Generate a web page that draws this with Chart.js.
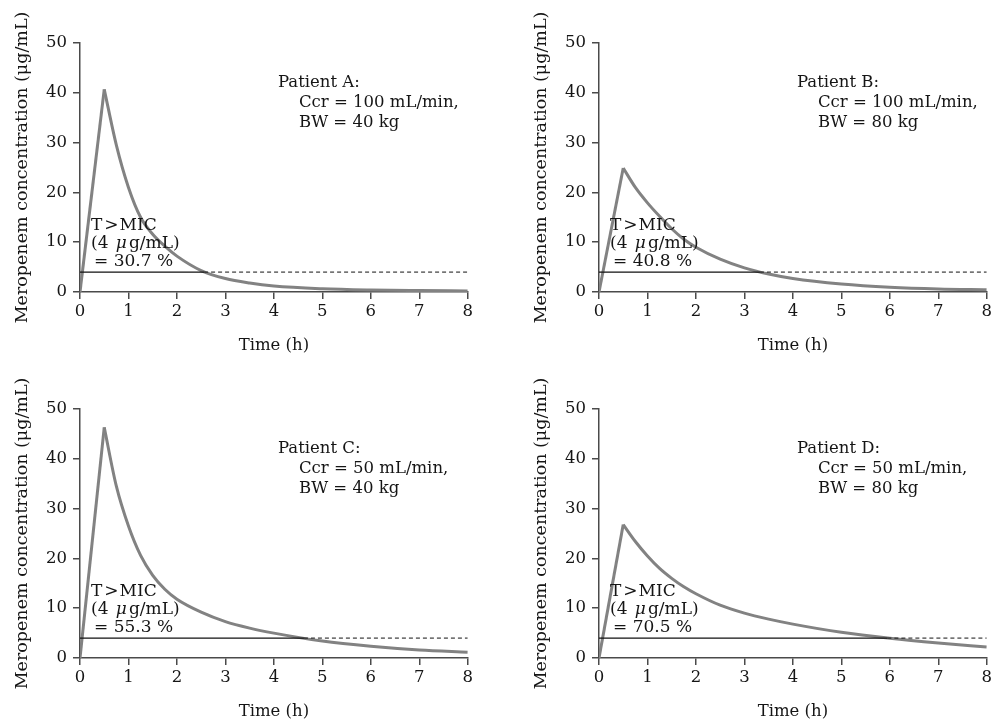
<!DOCTYPE html>
<html>
<head>
<meta charset="utf-8">
<script src="https://cdn.jsdelivr.net/npm/chart.js@4.4.1/dist/chart.umd.min.js"></script>
<style>
  body { margin: 0; background: #fff; }
  #wrap { position: relative; width: 995px; height: 721px; }
  canvas { position: absolute; }
</style>
</head>
<body>
<div id="wrap">
  <canvas id="chartA" width="476" height="360" style="left:0px;top:0px"></canvas>
  <canvas id="chartB" width="476" height="360" style="left:519px;top:0px"></canvas>
  <canvas id="chartC" width="476" height="360" style="left:0px;top:366px"></canvas>
  <canvas id="chartD" width="476" height="360" style="left:519px;top:366px"></canvas>
</div>
<script>
// time points (h), shared by all patients
const timeH = [0, 0.5, 0.75, 1, 1.25, 1.5, 1.75, 2, 2.5, 3, 3.5, 4, 5, 6, 7, 8];

// meropenem concentration (ug/mL)
const concA = [0, 40.7, 29.5, 21.0, 15.0, 11.6, 9.2, 7.2, 4.3, 2.7, 1.8, 1.2, 0.65, 0.4, 0.28, 0.2];
const concB = [0, 24.9, 21.0, 17.9, 15.2, 12.7, 10.6, 9.0, 6.6, 4.85, 3.6, 2.7, 1.6, 0.95, 0.6, 0.45];
const concC = [0, 46.3, 34.5, 26.5, 20.6, 16.6, 13.8, 11.8, 9.2, 7.3, 6.0, 5.0, 3.4, 2.35, 1.6, 1.15];
const concD = [0, 26.8, 23.4, 20.5, 18.0, 16.0, 14.3, 12.9, 10.6, 9.0, 7.8, 6.8, 5.15, 3.95, 3.0, 2.2];

// MIC line and the time where the curve drops below it
const mic = 4;
const crossTime = [2.56, 3.32, 4.62, 5.95];

const patientNames = ["Patient A:", "Patient B:", "Patient C:", "Patient D:"];
const ccrLabels = ["Ccr = 100 mL/min,", "Ccr = 100 mL/min,", "Ccr = 50 mL/min,", "Ccr = 50 mL/min,"];
const bwLabels = ["BW = 40 kg", "BW = 80 kg", "BW = 40 kg", "BW = 80 kg"];
const tmicLabels = ["= 30.7 %", "= 40.8 %", "= 55.3 %", "= 70.5 %"];

const xTicks = [0, 1, 2, 3, 4, 5, 6, 7, 8];
const yTicks = [0, 10, 20, 30, 40, 50];

const serif = "'DejaVu Serif', serif";
const axisCol = "#4a4a4a";
const textCol = "#151515";

// draws the patient block and the T>MIC note inside the plot
const panelText = {
  id: "panelText",
  afterDraw(chart, args, opts) {
    const ctx = chart.ctx;
    const a = chart.chartArea;
    ctx.save();
    ctx.fillStyle = textCol;
    ctx.textBaseline = "middle";
    ctx.font = "16.5px " + serif;
    ctx.fillText(opts.name, a.left + 198, a.top + 40);
    ctx.fillText(opts.ccr, a.left + 219, a.top + 60);
    ctx.fillText(opts.bw, a.left + 219, a.top + 80);

    // T>MIC note
    ctx.font = "17px " + serif;
    let x = a.left + 11;
    ctx.fillText("T", x, a.top + 183);
    x += ctx.measureText("T").width + 2;
    ctx.fillText(">", x, a.top + 183);
    x += ctx.measureText(">").width + 1;
    ctx.fillText("MIC", x, a.top + 183);

    const parts = [["(4 ", false], ["\u03BC", true], ["g/mL)", false]];
    x = a.left + 11;
    parts.forEach(function (p) {
      ctx.font = (p[1] ? "italic " : "") + "17px " + serif;
      ctx.fillText(p[0], x, a.top + 201);
      x += ctx.measureText(p[0]).width + 2;
    });
    ctx.font = "17px " + serif;
    ctx.fillText(opts.tmic, a.left + 14, a.top + 219);
    ctx.restore();
  },
};

function toPoints(xs, ys) {
  return xs.map(function (t, i) {
    return { x: t, y: ys[i] };
  });
}

function makeChart(id, conc, idx) {
  const rise = toPoints(timeH.slice(0, 2), conc.slice(0, 2));
  const decay = toPoints(timeH.slice(1), conc.slice(1));
  const micSolid = [{ x: 0, y: mic }, { x: crossTime[idx], y: mic }];
  const micDash = [{ x: crossTime[idx], y: mic }, { x: 8, y: mic }];

  return new Chart(document.getElementById(id), {
    type: "line",
    data: {
      datasets: [
        { data: micSolid, borderColor: "#111", borderWidth: 1.2, pointRadius: 0 },
        { data: micDash, borderColor: "#111", borderWidth: 1, borderDash: [4, 3], pointRadius: 0 },
        { data: rise, borderColor: "#828282", borderWidth: 3, pointRadius: 0 },
        {
          data: decay,
          borderColor: "#828282",
          borderWidth: 3,
          pointRadius: 0,
          cubicInterpolationMode: "monotone",
        },
      ],
    },
    options: {
      responsive: false,
      animation: false,
      devicePixelRatio: 1,
      layout: { padding: { top: 43, right: 6, bottom: 0, left: 0 } },
      plugins: {
        legend: { display: false },
        tooltip: { enabled: false },
        panelText: {
          name: patientNames[idx],
          ccr: ccrLabels[idx],
          bw: bwLabels[idx],
          tmic: tmicLabels[idx],
        },
      },
      scales: {
        x: {
          type: "linear",
          min: 0,
          max: 8,
          afterBuildTicks(s) {
            s.ticks = xTicks.map((v) => ({ value: v }));
          },
          afterFit(s) {
            s.height = 68;
          },
          ticks: { color: textCol, font: { family: serif, size: 16.5 }, padding: 3 },
          grid: { drawOnChartArea: false, tickLength: 7, color: axisCol, lineWidth: 1.5 },
          border: { color: axisCol, width: 1.5 },
          title: {
            display: true,
            text: "Time (h)",
            color: textCol,
            font: { family: serif, size: 16.5 },
            padding: { top: 10, bottom: 4 },
          },
        },
        y: {
          min: 0,
          max: 50,
          afterBuildTicks(s) {
            s.ticks = yTicks.map((v) => ({ value: v }));
          },
          afterFit(s) {
            s.width = 80;
          },
          ticks: { color: textCol, font: { family: serif, size: 16.5 }, padding: 6 },
          grid: { drawOnChartArea: false, tickLength: 7, color: axisCol, lineWidth: 1.5 },
          border: { color: axisCol, width: 1.5 },
          title: {
            display: true,
            text: "Meropenem concentration (\u03BCg/mL)",
            color: textCol,
            font: { family: serif, size: 17.5 },
            padding: { top: 12, bottom: 0 },
          },
        },
      },
    },
    plugins: [panelText],
  });
}

makeChart("chartA", concA, 0);
makeChart("chartB", concB, 1);
makeChart("chartC", concC, 2);
makeChart("chartD", concD, 3);
</script>
</body>
</html>
